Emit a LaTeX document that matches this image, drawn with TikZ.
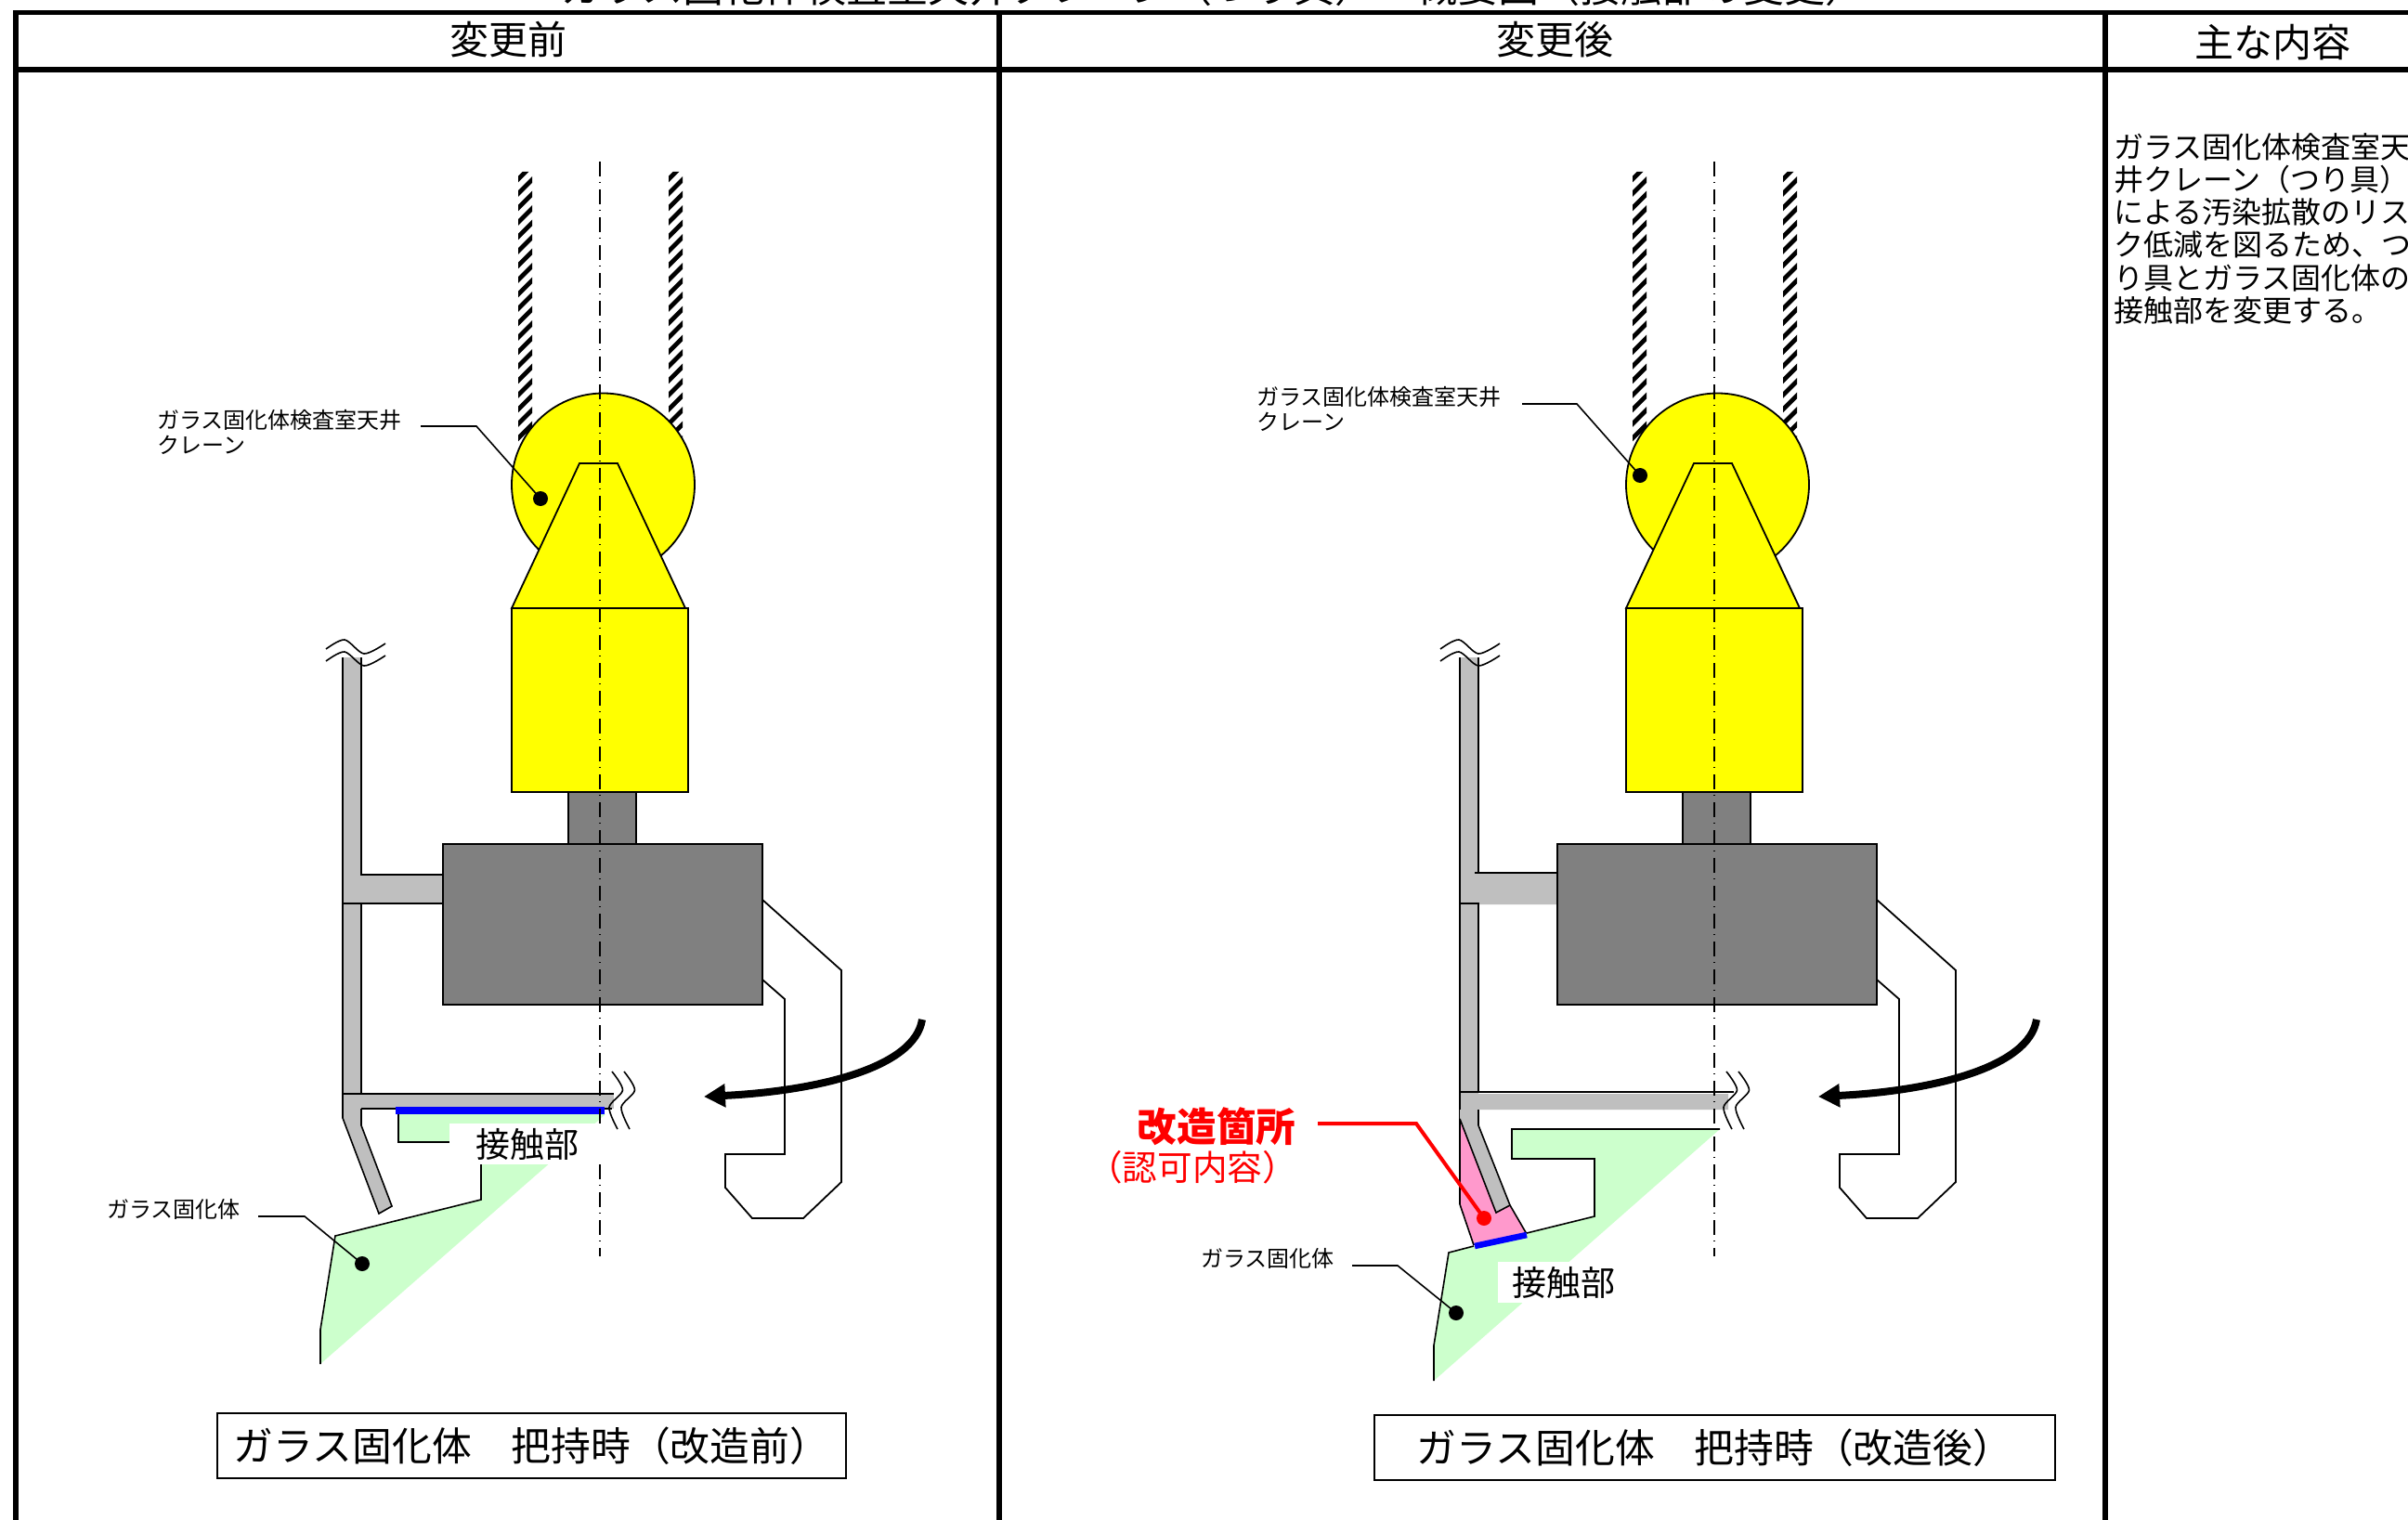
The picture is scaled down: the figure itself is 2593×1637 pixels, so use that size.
\documentclass[tikz,border=0pt]{standalone}
\usepackage{fontspec}
\setmainfont{Noto Sans CJK JP}
\usetikzlibrary{arrows.meta}
\definecolor{objgreen}{HTML}{CCFFCC}
\definecolor{modpink}{HTML}{FF99CC}
\definecolor{armgray}{HTML}{BFBFBF}
\definecolor{bodygray}{HTML}{808080}
\definecolor{craneyellow}{HTML}{FFFF00}
\definecolor{markblue}{HTML}{0000FF}
\definecolor{markred}{HTML}{FF0000}
\newcommand{\fsz}[1]{\fontsize{#1}{#1}\selectfont}
\tikzset{
  frame/.style={line width=2.6pt},
  part/.style={draw,line width=.9pt},
  edge/.style={line width=.8pt},
  wave/.style={line width=.8pt,smooth},
  axis/.style={line width=.7pt,dash pattern=on 8pt off 3pt on .7pt off 3.3pt},
  head/.style={font=\fsz{21pt},inner sep=0},
  small/.style={font=\fontsize{12pt}{13.5pt}\selectfont,inner sep=0,align=left,anchor=west},
  tag/.style={font=\fsz{18.5pt},fill=white,inner sep=0,minimum height=22pt},
  caption/.style={draw,line width=.9pt,font=\fsz{21.4pt},inner sep=0,minimum height=35pt},
  dot/.style={circle,fill=black,inner sep=0,minimum size=8pt},
  leader/.style={line width=.8pt},
}
% crane head, rope, hooks: same in both panels
\newcommand{\craneunit}{
  \begin{scope}
    \clip (558,185) rectangle (573,490) (720,185) rectangle (735,490);
    \foreach \ypos in {185.5,201,...,500}{
      \draw[line width=2.4pt] (556,\ypos+9.5) -- (575,\ypos-9.5);
      \draw[line width=2.4pt] (718,\ypos+9.5) -- (737,\ypos-9.5);
    }
  \end{scope}
  \draw[part,fill=craneyellow] (649.5,522) circle (98.5);
  \draw[part,fill=craneyellow] (624,499) -- (665,499) -- (738,655) -- (551,655) -- cycle;
  \draw[part,fill=craneyellow] (551,655) rectangle (741,853);
  \draw[part,fill=bodygray] (612,853) rectangle (685,909);
  \draw[part,fill=bodygray] (477,909) rectangle (821,1082);
  % outer and inner wire of the hook
  \draw[line width=.9pt] (821,969) -- (906,1045) -- (906,1273) -- (865,1312) -- (810,1312)
    -- (781,1279) -- (781,1243) -- (845,1243) -- (845,1076) -- (821,1055);
  \draw[line width=4pt,-{Triangle[length=11.5pt,width=12pt]}]
    (993,1098) .. controls (985,1150) and (880,1175) .. (758,1181);
  \draw[wave] plot coordinates {(659,1154) (670.5,1174) (656,1192.5) (665,1216)};
  \draw[wave] plot coordinates {(672,1154) (683.5,1174) (669,1192.5) (678,1216)};
  \draw[wave] plot coordinates {(351,699) (371,689) (392,704) (415,693)};
  \draw[wave] plot coordinates {(351,712) (371,702) (392,717) (415,706)};
}
\newcommand{\axisline}{\draw[axis] (646,174) -- (646,1353);}
\begin{document}
\begin{tikzpicture}[x=.5pt,y=-.5pt]
  \useasboundingbox (0,0) rectangle (2593,1637);
  \fill[white] (0,0) rectangle (2593,1637);
  % table
  \draw[frame] (17,1637) -- (17,13.5) -- (2593,13.5);
  \draw[frame] (17,75) -- (2593,75);
  \draw[frame] (1076,13.5) -- (1076,1637);
  \draw[frame] (2267,13.5) -- (2267,1637);
  \node[font=\fsz{22pt},inner sep=0] (title) at (1307,-14)
    {ガラス固化体検査室天井クレーン（つり具）　概要図（接触部の変更）};
  \node[head] (hbefore) at (547,43) {変更前};
  \node[head] (hafter) at (1674,43) {変更後};
  \node[head] (hmain) at (2447,46) {主な内容};
  \node[font=\fontsize{16pt}{17.6pt}\selectfont,inner sep=0,align=left,anchor=north west] (body) at (2276,143)
    {ガラス固化体検査室天\\井クレーン（つり具）\\による汚染拡散のリス\\ク低減を図るため、つ\\り具とガラス固化体の\\接触部を変更する。};

  % before
  \fill[armgray] (369,708) -- (389,708) -- (389,942) -- (477,942) -- (477,973) -- (389,973)
    -- (389,1212) -- (422,1299) -- (408,1307) -- (369,1204) -- cycle;
  \fill[armgray] (389,1178) rectangle (661,1193.5);
  \draw[edge] (369,708) -- (369,1204) -- (408,1307) -- (422,1299) -- (389,1212) -- (389,1194);
  \draw[edge] (389,708) -- (389,942) -- (477,942);
  \draw[edge] (369,973) -- (477,973);
  \draw[edge] (389,973) -- (389,1178);
  \draw[edge] (369,1178) -- (661,1178);
  \draw[edge] (389,1194) -- (659,1194);
  \craneunit
  \fill[objgreen] (429,1200) -- (652,1200) -- (345,1469) -- (345,1432) -- (361,1331) -- (518,1292) -- (518,1230) -- (429,1230) -- cycle;
  \draw[edge] (429,1200) -- (429,1230) -- (490,1230);
  \draw[edge] (518,1250) -- (518,1292) -- (361,1331) -- (345,1432) -- (345,1469);
  \draw[line width=3.8pt,markblue] (426,1196) -- (651,1196);
  \axisline
  \node[tag,minimum width=84pt] (touchA) at (568,1232) {接触部};
  \node[caption,minimum width=338.5pt] (capA) at (572.5,1557) {ガラス固化体　把持時（改造前）};
  \node[small] (craneA) at (169,465) {ガラス固化体検査室天井\\クレーン};
  \node[small] (glassA) at (115,1302) {ガラス固化体};
  \node[dot] (dotcraneA) at (582,537) {};
  \node[dot] (dotglassA) at (390,1361) {};
  \coordinate (kneecraneA) at (513,459);
  \coordinate (kneeglassA) at (328,1310);
  \draw[leader] (453,459) -- (kneecraneA) -- (dotcraneA.center);
  \draw[leader] (278,1310) -- (kneeglassA) -- (dotglassA.center);

  % after
  \fill[armgray] (1572,708) -- (1592,708) -- (1592,940) -- (1677,940) -- (1677,974) -- (1592,974) -- (1592,1178)
    -- (1861,1178) -- (1861,1195) -- (1592,1195) -- (1592,1212) -- (1572,1205) -- cycle;
  \draw[edge] (1572,708) -- (1572,1205);
  \draw[edge] (1592,708) -- (1592,940);
  \draw[edge] (1588,940) -- (1677,940);
  \draw[edge] (1572,973) -- (1592,973) -- (1592,1176);
  \begin{scope}[xshift=600pt]
    \craneunit
  \end{scope}
  \fill[modpink] (1572,1205) -- (1572,1297) -- (1587,1341) -- (1644,1329) -- (1626,1298) -- (1611,1306) -- cycle;
  \draw[edge] (1572,1205) -- (1572,1297) -- (1587,1341);
  \draw[edge] (1644,1329) -- (1626,1298);
  \fill[armgray] (1572,1195) -- (1592,1195) -- (1592,1212) -- (1626,1298) -- (1611,1306) -- (1572,1205) -- cycle;
  \draw[edge] (1572,1176) -- (1867,1176);
  \draw[edge] (1572,1205) -- (1611,1306) -- (1626,1298) -- (1592,1212) -- (1592,1195);
  \fill[objgreen] (1628,1216) -- (1852,1216) -- (1544,1487) -- (1544,1449) -- (1560,1349) -- (1644,1328) -- (1717,1310) -- (1717,1248) -- (1628,1248) -- cycle;
  \fill[objgreen] (1587,1339) -- (1644,1328) -- (1640,1345) -- cycle;
  \draw[edge] (1852,1216) -- (1628,1216) -- (1628,1248) -- (1717,1248) -- (1717,1310) -- (1644,1328);
  \draw[edge] (1587,1342) -- (1560,1349) -- (1544,1449) -- (1544,1487);
  \draw[line width=3.3pt,markblue] (1588,1342) -- (1644,1330);
  \begin{scope}[xshift=600pt]
    \axisline
  \end{scope}
  \node[tag,minimum width=71pt] (touchB) at (1684,1381) {接触部};
  \node[caption,minimum width=366.5pt] (capB) at (1846.5,1559) {ガラス固化体　把持時（改造後）};
  \node[small] (craneB) at (1353,440) {ガラス固化体検査室天井\\クレーン};
  \node[small] (glassB) at (1293,1355) {ガラス固化体};
  \node[font=\bfseries\fsz{21.3pt},text=markred,inner sep=0] (modB) at (1310,1213) {改造箇所};
  \node[font=\fsz{18.8pt},text=markred,inner sep=0] (permitB) at (1284,1257) {（認可内容）};
  \node[dot] (dotcraneB) at (1766,512) {};
  \node[dot] (dotglassB) at (1568,1414) {};
  \node[dot,fill=markred] (dotmodB) at (1598,1312) {};
  \coordinate (kneecraneB) at (1698,435);
  \coordinate (kneeglassB) at (1505,1363);
  \coordinate (kneemodB) at (1525,1210);
  \draw[leader] (1639,435) -- (kneecraneB) -- (dotcraneB.center);
  \draw[leader] (1456,1363) -- (kneeglassB) -- (dotglassB.center);
  \draw[line width=2pt,markred] (1419,1210) -- (kneemodB) -- (dotmodB.center);
\end{tikzpicture}
\end{document}
